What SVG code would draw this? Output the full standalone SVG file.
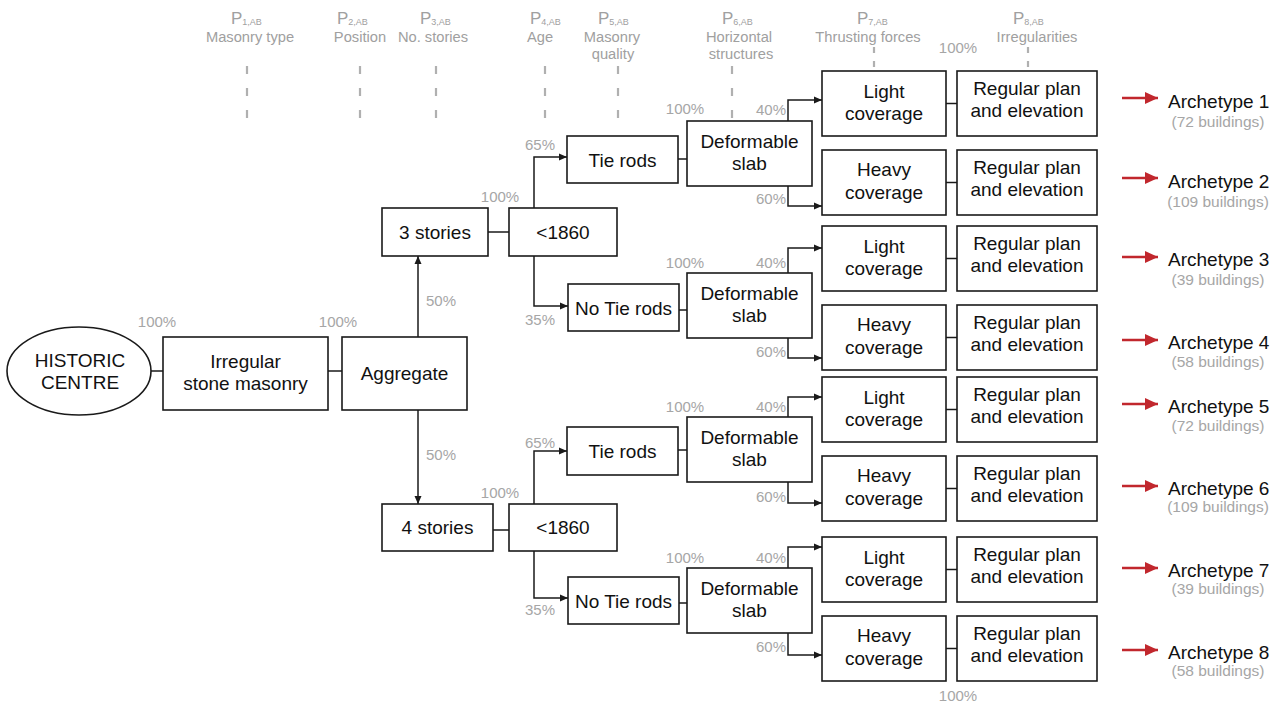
<svg xmlns="http://www.w3.org/2000/svg" width="1281" height="703" viewBox="0 0 1281 703">
<defs>
<style>
text{font-family:"Liberation Sans",Arial,sans-serif}
.box{fill:#fff;stroke:#1a1a1a;stroke-width:1.6}
.t{font-size:19px;fill:#111;text-anchor:middle}
.g{font-size:15px;fill:#a6a6a6;text-anchor:middle}
.h{font-size:14.7px;fill:#a0a0a0;text-anchor:middle}
.p{font-size:17px;fill:#a0a0a0}
.ps{font-size:9px}
.ln{fill:none;stroke:#1a1a1a;stroke-width:1.5}
.ar{fill:none;stroke:#1a1a1a;stroke-width:1.5;marker-end:url(#ah)}
.ds{stroke:#b0b0b0;stroke-width:2.2}
.ra{stroke:#c1272d;stroke-width:2.6;marker-end:url(#rh)}
.at{font-size:19px;fill:#111}
.bd{font-size:15.5px;fill:#a6a6a6;text-anchor:middle}
</style>
<marker id="ah" markerWidth="9" markerHeight="9" refX="8" refY="4" orient="auto" markerUnits="userSpaceOnUse"><path d="M0,0.5 L8,4 L0,7.5 z" fill="#1a1a1a"/></marker>
<marker id="rh" markerWidth="14" markerHeight="14" refX="13" refY="6.5" orient="auto" markerUnits="userSpaceOnUse"><path d="M0,0.5 L13,6.5 L0,12.5 z" fill="#c1272d"/></marker>
</defs>
<rect width="1281" height="703" fill="#fff"/>

<g id="headers">
<text class="p" x="231" y="24">P<tspan class="ps" dy="1">1,AB</tspan></text>
<text class="h" x="250" y="42">Masonry type</text>
<text class="p" x="337" y="24">P<tspan class="ps" dy="1">2,AB</tspan></text>
<text class="h" x="360" y="42">Position</text>
<text class="p" x="420" y="24">P<tspan class="ps" dy="1">3,AB</tspan></text>
<text class="h" x="433" y="42">No. stories</text>
<text class="p" x="530" y="24">P<tspan class="ps" dy="1">4,AB</tspan></text>
<text class="h" x="540" y="42">Age</text>
<text class="p" x="598" y="24">P<tspan class="ps" dy="1">5,AB</tspan></text>
<text class="h" x="612" y="42">Masonry</text>
<text class="h" x="613" y="59">quality</text>
<text class="p" x="722" y="24">P<tspan class="ps" dy="1">6,AB</tspan></text>
<text class="h" x="739" y="42">Horizontal</text>
<text class="h" x="741" y="59">structures</text>
<text class="p" x="857" y="24">P<tspan class="ps" dy="1">7,AB</tspan></text>
<text class="h" x="868" y="42">Thrusting forces</text>
<text class="p" x="1013" y="24">P<tspan class="ps" dy="1">8,AB</tspan></text>
<text class="h" x="1037" y="42">Irregularities</text>
<line class="ds" x1="247" y1="66" x2="247" y2="118" stroke-dasharray="8 14"/>
<line class="ds" x1="360" y1="66" x2="360" y2="118" stroke-dasharray="8 14"/>
<line class="ds" x1="436" y1="66" x2="436" y2="118" stroke-dasharray="8 14"/>
<line class="ds" x1="545" y1="66" x2="545" y2="118" stroke-dasharray="8 14"/>
<line class="ds" x1="618" y1="66" x2="618" y2="118" stroke-dasharray="8 14"/>
<line class="ds" x1="732" y1="66" x2="732" y2="118" stroke-dasharray="8 14"/>
<line class="ds" x1="874" y1="47" x2="874" y2="69" stroke-dasharray="6 8"/>
<line class="ds" x1="1028" y1="47" x2="1028" y2="69" stroke-dasharray="6 8"/>
</g>

<g id="connectors">
<line class="ln" x1="151" y1="371" x2="163" y2="371"/>
<line class="ln" x1="328" y1="371" x2="342" y2="371"/>
<line class="ar" x1="418" y1="337" x2="418" y2="256"/>
<line class="ar" x1="418" y1="410" x2="418" y2="504"/>
<line class="ln" x1="488" y1="232" x2="509" y2="232"/>
<line class="ln" x1="493" y1="530" x2="509" y2="530"/>
<polyline class="ar" points="534,208 534,157 567,157"/>
<polyline class="ar" points="534,256 534,306 568,306"/>
<polyline class="ar" points="534,504 534,451 567,451"/>
<polyline class="ar" points="534,551 534,598 568,598"/>
<line class="ln" x1="678" y1="159" x2="687" y2="159"/>
<line class="ln" x1="679" y1="310" x2="687" y2="310"/>
<line class="ln" x1="678" y1="450" x2="687" y2="450"/>
<line class="ln" x1="679" y1="603" x2="687" y2="603"/>
<polyline class="ar" points="788,121 788,100 822,100"/>
<polyline class="ar" points="788,186 788,206 822,206"/>
<polyline class="ar" points="788,273 788,248 822,248"/>
<polyline class="ar" points="788,338 788,358 822,358"/>
<polyline class="ar" points="788,417 788,397 822,397"/>
<polyline class="ar" points="788,482 788,503 822,503"/>
<polyline class="ar" points="788,568 788,547 822,547"/>
<polyline class="ar" points="788,633 788,655 822,655"/>
<line class="ln" x1="946" y1="103.5" x2="957" y2="103.5"/>
<line class="ln" x1="946" y1="182.5" x2="957" y2="182.5"/>
<line class="ln" x1="946" y1="258.5" x2="957" y2="258.5"/>
<line class="ln" x1="946" y1="337.5" x2="957" y2="337.5"/>
<line class="ln" x1="946" y1="409.5" x2="957" y2="409.5"/>
<line class="ln" x1="946" y1="488.5" x2="957" y2="488.5"/>
<line class="ln" x1="946" y1="569.5" x2="957" y2="569.5"/>
<line class="ln" x1="946" y1="648.5" x2="957" y2="648.5"/>
<line class="ra" x1="1122" y1="98" x2="1158" y2="98"/>
<line class="ra" x1="1122" y1="178" x2="1158" y2="178"/>
<line class="ra" x1="1122" y1="257" x2="1158" y2="257"/>
<line class="ra" x1="1122" y1="340" x2="1158" y2="340"/>
<line class="ra" x1="1122" y1="404" x2="1158" y2="404"/>
<line class="ra" x1="1122" y1="486" x2="1158" y2="486"/>
<line class="ra" x1="1122" y1="568" x2="1158" y2="568"/>
<line class="ra" x1="1122" y1="650" x2="1158" y2="650"/>
</g>

<g id="percentages">
<text class="g" x="157" y="327">100%</text>
<text class="g" x="338" y="327">100%</text>
<text class="g" x="441" y="306">50%</text>
<text class="g" x="441" y="460">50%</text>
<text class="g" x="500" y="202">100%</text>
<text class="g" x="500" y="498">100%</text>
<text class="g" x="540" y="150">65%</text>
<text class="g" x="540" y="325">35%</text>
<text class="g" x="540" y="448">65%</text>
<text class="g" x="540" y="615">35%</text>
<text class="g" x="685" y="114">100%</text>
<text class="g" x="685" y="268">100%</text>
<text class="g" x="685" y="412">100%</text>
<text class="g" x="685" y="563">100%</text>
<text class="g" x="771" y="115">40%</text>
<text class="g" x="771" y="204">60%</text>
<text class="g" x="771" y="268">40%</text>
<text class="g" x="771" y="357">60%</text>
<text class="g" x="771" y="412">40%</text>
<text class="g" x="771" y="502">60%</text>
<text class="g" x="771" y="563">40%</text>
<text class="g" x="771" y="652">60%</text>
<text class="g" x="958" y="53">100%</text>
<text class="g" x="958" y="701">100%</text>
</g>

<g id="n-historic"><ellipse class="box" cx="79" cy="371" rx="72" ry="44"/><text class="t" x="80" y="367">HISTORIC</text><text class="t" x="80" y="389">CENTRE</text></g>
<g id="n-masonry"><rect class="box" x="163" y="337" width="165" height="73"/><text class="t" x="245.5" y="368">Irregular</text><text class="t" x="245.5" y="390">stone masonry</text></g>
<g id="n-aggregate"><rect class="box" x="342" y="337" width="125" height="73"/><text class="t" x="404.5" y="380">Aggregate</text></g>

<g id="n-3stories"><rect class="box" x="382" y="208" width="106" height="48"/><text class="t" x="435" y="239">3 stories</text></g>
<g id="n-age1"><rect class="box" x="509" y="208" width="108" height="48"/><text class="t" x="563" y="239">&lt;1860</text></g>
<g id="n-4stories"><rect class="box" x="382" y="504" width="111" height="47"/><text class="t" x="437.5" y="534">4 stories</text></g>
<g id="n-age2"><rect class="box" x="509" y="504" width="108" height="47"/><text class="t" x="563" y="534">&lt;1860</text></g>

<g id="n-tie1"><rect class="box" x="567" y="136" width="111" height="47"/><text class="t" x="622.5" y="167">Tie rods</text></g>
<g id="n-notie1"><rect class="box" x="568" y="284" width="111" height="47"/><text class="t" x="623.5" y="315">No Tie rods</text></g>
<g id="n-tie2"><rect class="box" x="567" y="427" width="111" height="48"/><text class="t" x="622.5" y="458">Tie rods</text></g>
<g id="n-notie2"><rect class="box" x="568" y="577" width="111" height="47"/><text class="t" x="623.5" y="608">No Tie rods</text></g>

<g id="n-slab1"><rect class="box" x="687" y="121" width="125" height="65"/><text class="t" x="749.5" y="147.5">Deformable</text><text class="t" x="749.5" y="169.5">slab</text></g>
<g id="n-slab2"><rect class="box" x="687" y="273" width="125" height="65"/><text class="t" x="749.5" y="299.5">Deformable</text><text class="t" x="749.5" y="321.5">slab</text></g>
<g id="n-slab3"><rect class="box" x="687" y="417" width="125" height="65"/><text class="t" x="749.5" y="443.5">Deformable</text><text class="t" x="749.5" y="465.5">slab</text></g>
<g id="n-slab4"><rect class="box" x="687" y="568" width="125" height="65"/><text class="t" x="749.5" y="594.5">Deformable</text><text class="t" x="749.5" y="616.5">slab</text></g>

<g id="n-cov1"><rect class="box" x="822" y="71" width="124" height="65"/><text class="t" x="884" y="98">Light</text><text class="t" x="884" y="120">coverage</text></g>
<g id="n-cov2"><rect class="box" x="822" y="150" width="124" height="65"/><text class="t" x="884" y="176">Heavy</text><text class="t" x="884" y="198.5">coverage</text></g>
<g id="n-cov3"><rect class="box" x="822" y="226" width="124" height="65"/><text class="t" x="884" y="253">Light</text><text class="t" x="884" y="275">coverage</text></g>
<g id="n-cov4"><rect class="box" x="822" y="305" width="124" height="65"/><text class="t" x="884" y="331">Heavy</text><text class="t" x="884" y="353.5">coverage</text></g>
<g id="n-cov5"><rect class="box" x="822" y="377" width="124" height="65"/><text class="t" x="884" y="404">Light</text><text class="t" x="884" y="426">coverage</text></g>
<g id="n-cov6"><rect class="box" x="822" y="456" width="124" height="65"/><text class="t" x="884" y="482">Heavy</text><text class="t" x="884" y="504.5">coverage</text></g>
<g id="n-cov7"><rect class="box" x="822" y="537" width="124" height="65"/><text class="t" x="884" y="564">Light</text><text class="t" x="884" y="586">coverage</text></g>
<g id="n-cov8"><rect class="box" x="822" y="616" width="124" height="65"/><text class="t" x="884" y="642">Heavy</text><text class="t" x="884" y="664.5">coverage</text></g>

<g id="n-reg1"><rect class="box" x="957" y="71" width="140" height="65"/><text class="t" x="1027" y="94.5">Regular plan</text><text class="t" x="1027" y="116.5">and elevation</text></g>
<g id="n-reg2"><rect class="box" x="957" y="150" width="140" height="65"/><text class="t" x="1027" y="173.5">Regular plan</text><text class="t" x="1027" y="195.5">and elevation</text></g>
<g id="n-reg3"><rect class="box" x="957" y="226" width="140" height="65"/><text class="t" x="1027" y="249.5">Regular plan</text><text class="t" x="1027" y="271.5">and elevation</text></g>
<g id="n-reg4"><rect class="box" x="957" y="305" width="140" height="65"/><text class="t" x="1027" y="328.5">Regular plan</text><text class="t" x="1027" y="350.5">and elevation</text></g>
<g id="n-reg5"><rect class="box" x="957" y="377" width="140" height="65"/><text class="t" x="1027" y="400.5">Regular plan</text><text class="t" x="1027" y="422.5">and elevation</text></g>
<g id="n-reg6"><rect class="box" x="957" y="456" width="140" height="65"/><text class="t" x="1027" y="479.5">Regular plan</text><text class="t" x="1027" y="501.5">and elevation</text></g>
<g id="n-reg7"><rect class="box" x="957" y="537" width="140" height="65"/><text class="t" x="1027" y="560.5">Regular plan</text><text class="t" x="1027" y="582.5">and elevation</text></g>
<g id="n-reg8"><rect class="box" x="957" y="616" width="140" height="65"/><text class="t" x="1027" y="639.5">Regular plan</text><text class="t" x="1027" y="661.5">and elevation</text></g>

<g id="archetypes">
<text class="at" x="1168" y="108">Archetype 1</text><text class="bd" x="1218" y="127">(72 buildings)</text>
<text class="at" x="1168" y="188">Archetype 2</text><text class="bd" x="1218" y="207">(109 buildings)</text>
<text class="at" x="1168" y="266">Archetype 3</text><text class="bd" x="1218" y="285">(39 buildings)</text>
<text class="at" x="1168" y="349">Archetype 4</text><text class="bd" x="1218" y="367">(58 buildings)</text>
<text class="at" x="1168" y="413">Archetype 5</text><text class="bd" x="1218" y="431">(72 buildings)</text>
<text class="at" x="1168" y="495">Archetype 6</text><text class="bd" x="1218" y="512">(109 buildings)</text>
<text class="at" x="1168" y="577">Archetype 7</text><text class="bd" x="1218" y="594">(39 buildings)</text>
<text class="at" x="1168" y="659">Archetype 8</text><text class="bd" x="1218" y="676">(58 buildings)</text>
</g>
</svg>
